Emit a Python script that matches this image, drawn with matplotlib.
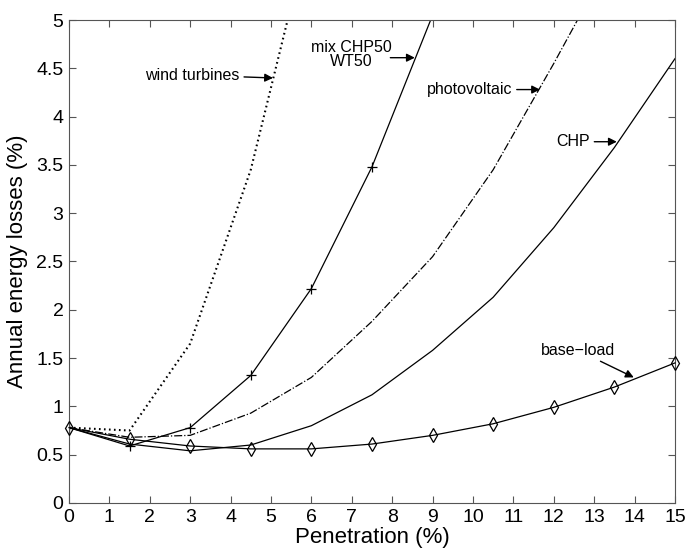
import numpy as np
import matplotlib
matplotlib.use("Agg")
import matplotlib.pyplot as plt

plt.rcParams['font.family'] = ['Liberation Sans', 'DejaVu Sans']

# penetration steps (%)
x = [0, 1.5, 3, 4.5, 6, 7.5, 9, 10.5, 12, 13.5, 15]

base_load = [0.78, 0.66, 0.59, 0.56, 0.56, 0.61, 0.70, 0.82, 0.99, 1.20, 1.45]
chp = [0.78, 0.61, 0.54, 0.60, 0.80, 1.12, 1.58, 2.13, 2.85, 3.68, 4.60]
photovoltaic = [0.78, 0.68, 0.70, 0.93, 1.30, 1.88, 2.55, 3.45, 4.55, 5.70]
mix = [0.78, 0.59, 0.78, 1.32, 2.22, 3.48, 5.05]
wind = [0.78, 0.75, 1.65, 3.45, 6.0]

fig = plt.figure(figsize=(6.87, 5.5), dpi=100)
ax = fig.add_axes([0.1004, 0.0855, 0.8821, 0.8781])

lc = 'black'
ax.plot(x[:len(wind)], wind, color=lc, lw=1.5, ls=(0, (0.8, 1.6)))
ax.plot(x[:len(mix)], mix, '-', color=lc, lw=0.9, marker='+', ms=7, mew=0.9)
ax.plot(x[:len(photovoltaic)], photovoltaic, '-.', color=lc, lw=0.9)
ax.plot(x, chp, '-', color=lc, lw=0.9)
ax.plot(x, base_load, '-', color=lc, lw=0.9, marker='d', ms=7, mfc='none', mew=0.9,
        clip_on=False, zorder=3)

ax.set_xlim(0, 15)
ax.set_ylim(0, 5)
ax.set_xticks(range(0, 16))
ax.set_yticks(np.arange(0, 5.01, 0.5))
ax.set_yticklabels(['0', '0.5', '1', '1.5', '2', '2.5', '3', '3.5', '4', '4.5', '5'])
ax.tick_params(direction='in', top=True, right=True, length=5, labelsize=14,
               color='#555555', pad=4)
for s in ax.spines.values():
    s.set_color('#555555')
ax.set_xlabel('Penetration (%)', fontsize=16, labelpad=1)
ax.set_ylabel('Annual energy losses (%)', fontsize=16, labelpad=6)

ap = dict(arrowstyle='-|>', color='black', lw=1.0, mutation_scale=12,
          shrinkA=1, shrinkB=0)
fs = 11.5
ax.annotate('wind turbines', xy=(5.05, 4.40), xytext=(4.23, 4.43),
            ha='right', va='center', fontsize=fs, arrowprops=ap)
ax.text(6.98, 4.64, 'mix CHP50\nWT50', ha='center', va='center', fontsize=fs,
        linespacing=0.95)
ax.annotate('', xy=(8.56, 4.61), xytext=(7.92, 4.61), arrowprops=ap)
ax.annotate('photovoltaic', xy=(11.66, 4.28), xytext=(10.98, 4.28),
            ha='right', va='center', fontsize=fs, arrowprops=ap)
ax.annotate('CHP', xy=(13.56, 3.74), xytext=(12.9, 3.74),
            ha='right', va='center', fontsize=fs, arrowprops=ap)
ax.annotate('base\u2212load', xy=(13.98, 1.30), xytext=(12.6, 1.58),
            ha='center', va='center', fontsize=fs, arrowprops=ap)

fig.savefig('out.png', dpi=100)
